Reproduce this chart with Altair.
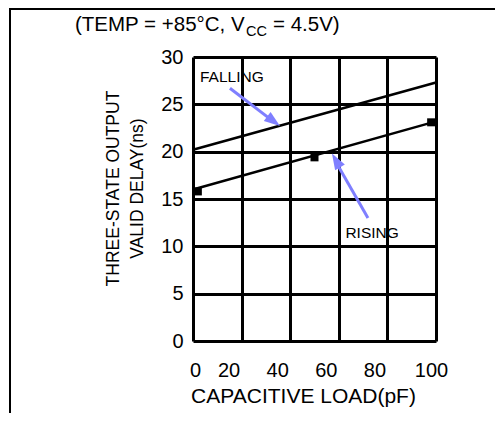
import altair as alt
import pandas as pd

# ---- chart values ----
load_pf = [0, 100]
falling_ns = [20.2, 27.3]
rising_ns = [16.0, 23.2]
marker_pf = [2, 50, 98]
marker_ns = [15.8, 19.4, 23.1]
x_ticks = [0, 20, 40, 60, 80, 100]
y_ticks = [0, 5, 10, 15, 20, 25, 30]

# annotation labels and arrows (data coordinates)
note_text = ["FALLING", "RISING"]
note_x = [16.0, 73.7]
note_y = [27.9, 11.4]
arrow_tail_x = [15.2, 72.0]
arrow_tail_y = [26.7, 13.0]
arrow_base_x = [32.5, 59.7]
arrow_base_y = [23.3, 18.5]
arrow_tip_x = [35.8, 57.2]
arrow_tip_y = [22.7, 19.8]
arrow_angle = [127, 330]

FONT = "Liberation Sans"
ARROW = "#7f7fff"

lines_df = pd.DataFrame({
    "load": load_pf + load_pf,
    "delay": falling_ns + rising_ns,
    "series": ["FALLING"] * 2 + ["RISING"] * 2,
})
marks_df = pd.DataFrame({"load": marker_pf, "delay": marker_ns})
notes_df = pd.DataFrame({"text": note_text, "x": note_x, "y": note_y})
arrows_df = pd.DataFrame({
    "tx": arrow_tail_x, "ty": arrow_tail_y,
    "bx": arrow_base_x, "by": arrow_base_y,
    "px": arrow_tip_x, "py": arrow_tip_y,
    "angle": arrow_angle,
})

xscale = alt.Scale(domain=[0, 100], nice=False)
yscale = alt.Scale(domain=[0, 30], nice=False)

x_axis = alt.Axis(
    values=x_ticks, grid=True, gridColor="black", gridWidth=3, gridOpacity=1,
    domain=False, ticks=False, labelFlush=False,
    labelFont=FONT, labelFontSize=20, labelColor="black", labelPadding=19,
    labelOffset={"condition": [{"test": "datum.value == 0", "value": 2},
                               {"test": "datum.value == 100", "value": -5}],
                 "value": -13},
    title="CAPACITIVE LOAD(pF)", titleFont=FONT, titleFontSize=21,
    titleFontWeight="normal", titleColor="black", titleX=110, titleY=61,
    titleAlign="center", titleBaseline="alphabetic",
)
y_axis = alt.Axis(
    values=y_ticks, grid=True, gridColor="black", gridWidth=3, gridOpacity=1,
    domain=False, ticks=False,
    labelFont=FONT, labelFontSize=20, labelColor="black", labelPadding=10,
    title=["THREE-STATE OUTPUT", "VALID DELAY(ns)"], titleFont=FONT,
    titleFontSize=17.5, titleFontWeight="normal", titleColor="black",
    titleX=-80, titleY=131, titleAngle=270, titleAlign="center",
    titleBaseline="middle", titleLineHeight=24,
)

lines = alt.Chart(lines_df).mark_line(color="black", strokeWidth=2.5).encode(
    x=alt.X("load:Q", scale=xscale, axis=x_axis),
    y=alt.Y("delay:Q", scale=yscale, axis=y_axis),
    detail="series:N",
)
squares = alt.Chart(marks_df).mark_square(size=64, color="black", opacity=1).encode(
    x=alt.X("load:Q", scale=xscale), y=alt.Y("delay:Q", scale=yscale)
)
shafts = alt.Chart(arrows_df).mark_rule(color=ARROW, strokeWidth=3).encode(
    x=alt.X("tx:Q", scale=xscale), y=alt.Y("ty:Q", scale=yscale),
    x2="bx:Q", y2="by:Q",
)
heads = alt.Chart(arrows_df).mark_point(
    shape="M0,0 L0.7,2 L-0.7,2 Z", size=256, filled=True, color=ARROW, opacity=1
).encode(
    x=alt.X("px:Q", scale=xscale), y=alt.Y("py:Q", scale=yscale),
    angle=alt.Angle("angle:Q", scale=None),
)
notes = alt.Chart(notes_df).mark_text(
    font=FONT, fontSize=15.5, color="black", baseline="middle", align="center"
).encode(
    x=alt.X("x:Q", scale=xscale), y=alt.Y("y:Q", scale=yscale), text="text:N"
)

one = alt.Data(values=[{}])
t1 = alt.Chart(one).mark_text(font=FONT, fontSize=20.5, color="black", align="left",
                              baseline="alphabetic").encode(
    x=alt.value(-118), y=alt.value(-26), text=alt.value("(TEMP = +85°C, V"))
t2 = alt.Chart(one).mark_text(font=FONT, fontSize=14.5, color="black", align="left",
                              baseline="alphabetic").encode(
    x=alt.value(53), y=alt.value(-21), text=alt.value("CC"))
t3 = alt.Chart(one).mark_text(font=FONT, fontSize=20.5, color="black", align="left",
                              baseline="alphabetic").encode(
    x=alt.value(80), y=alt.value(-26), text=alt.value("= 4.5V)"))

frame_top = alt.Chart(one).mark_rule(color="black", strokeWidth=2).encode(
    x=alt.value(-183), x2=alt.value(302), y=alt.value(-48))
frame_left = alt.Chart(one).mark_rule(color="black", strokeWidth=2).encode(
    x=alt.value(-183), y=alt.value(-49), y2=alt.value(356))

chart = alt.layer(
    lines, squares, shafts, heads, notes, t1, t2, t3, frame_top, frame_left
).properties(
    width=243, height=284,
    padding={"left": 185, "top": 49, "right": 59, "bottom": 72},
    autosize=alt.AutoSizeParams(type="none"),
).configure_view(strokeWidth=0)

chart.save("out.html", embed_options={"renderer": "svg", "actions": False})
